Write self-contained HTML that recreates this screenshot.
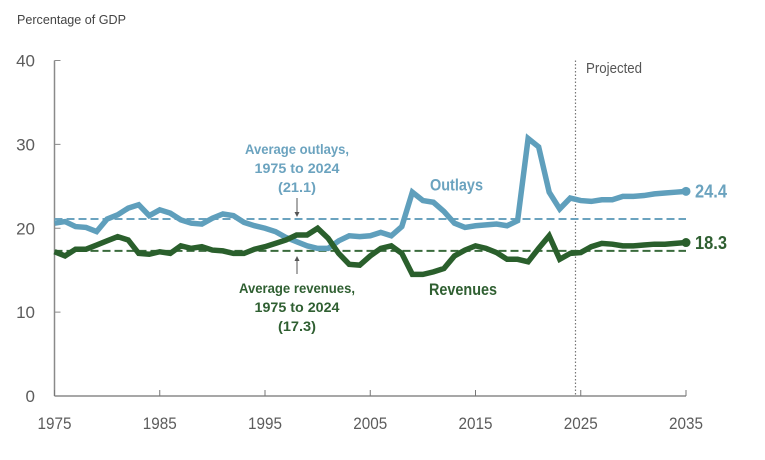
<!DOCTYPE html>
<html lang="en">
<head>
<meta charset="utf-8">
<title>Outlays and Revenues</title>
<style>
  html, body { margin: 0; padding: 0; background: #fff; }
  svg { display: block; filter: blur(0.35px); }
  text { font-family: "Liberation Sans", sans-serif; }
  .blue { fill: #6ba3bf; font-weight: bold; font-size: 14px; }
  .green { fill: #2f5f31; font-weight: bold; font-size: 14px; }
  .tick { fill: #5c5c5c; font-size: 17px; }
</style>
</head>
<body>
<svg id="chart" width="765" height="460" viewBox="0 0 765 460" xmlns="http://www.w3.org/2000/svg">
  <text x="17" y="24" font-size="12.5" fill="#444" textLength="109" lengthAdjust="spacingAndGlyphs">Percentage of GDP</text>
  <g id="axes"></g>
  <g id="refs"></g>
  <g id="series"></g>

  <text x="586" y="73" font-size="15" fill="#555" textLength="56" lengthAdjust="spacingAndGlyphs">Projected</text>

  <g text-anchor="middle">
    <text class="blue" x="297" y="154" textLength="104" lengthAdjust="spacingAndGlyphs">Average outlays,</text>
    <text class="blue" x="297" y="173" textLength="85" lengthAdjust="spacingAndGlyphs">1975 to 2024</text>
    <text class="blue" x="297" y="192" textLength="38" lengthAdjust="spacingAndGlyphs">(21.1)</text>
  </g>
  <g text-anchor="middle">
    <text class="green" x="297" y="293" textLength="116" lengthAdjust="spacingAndGlyphs">Average revenues,</text>
    <text class="green" x="297" y="312" textLength="85" lengthAdjust="spacingAndGlyphs">1975 to 2024</text>
    <text class="green" x="297" y="331" textLength="38" lengthAdjust="spacingAndGlyphs">(17.3)</text>
  </g>

  <g stroke="#555" fill="#555">
    <line x1="297" y1="198" x2="297" y2="214" stroke-width="1"/>
    <path d="M294.5 212 L299.5 212 L297 217 Z" stroke="none"/>
  </g>
  <g stroke="#555" fill="#555">
    <line x1="297" y1="259" x2="297" y2="274" stroke-width="1"/>
    <path d="M294.5 261 L299.5 261 L297 256 Z" stroke="none"/>
  </g>

  <text class="blue" x="430" y="190.5" style="font-size:16.5px" textLength="53" lengthAdjust="spacingAndGlyphs">Outlays</text>
  <text class="green" x="429" y="295" style="font-size:16.5px" textLength="68" lengthAdjust="spacingAndGlyphs">Revenues</text>
  <text id="outlaysEnd" class="blue" x="695" y="197.5" style="font-size:18px" textLength="32" lengthAdjust="spacingAndGlyphs"></text>
  <text id="revenuesEnd" class="green" x="695" y="249" style="font-size:18px" textLength="32" lengthAdjust="spacingAndGlyphs"></text>
</svg>
<script>
const years = [1975,1976,1977,1978,1979,1980,1981,1982,1983,1984,1985,1986,1987,1988,1989,1990,1991,1992,1993,1994,1995,1996,1997,1998,1999,2000,2001,2002,2003,2004,2005,2006,2007,2008,2009,2010,2011,2012,2013,2014,2015,2016,2017,2018,2019,2020,2021,2022,2023,2024,2025,2026,2027,2028,2029,2030,2031,2032,2033,2034,2035];
const outlays = [20.6,20.8,20.2,20.1,19.6,21.1,21.6,22.4,22.8,21.5,22.2,21.8,21.0,20.6,20.5,21.2,21.7,21.5,20.7,20.3,20.0,19.6,18.9,18.4,17.9,17.6,17.6,18.5,19.1,19.0,19.1,19.5,19.1,20.2,24.3,23.3,23.1,22.0,20.6,20.1,20.3,20.4,20.5,20.3,20.9,30.7,29.7,24.3,22.3,23.6,23.3,23.2,23.4,23.4,23.8,23.8,23.9,24.1,24.2,24.3,24.4];
const revenues = [17.2,16.7,17.5,17.5,18.0,18.5,19.0,18.6,17.0,16.9,17.2,17.0,17.9,17.6,17.8,17.4,17.3,17.0,17.0,17.5,17.8,18.2,18.6,19.2,19.2,20.0,18.8,17.0,15.7,15.6,16.7,17.6,17.9,17.0,14.5,14.5,14.8,15.2,16.7,17.4,17.9,17.6,17.1,16.3,16.3,16.0,17.6,19.1,16.3,17.0,17.1,17.8,18.2,18.1,17.9,17.9,18.0,18.1,18.1,18.2,18.3];
const averageOutlays = 21.1;
const averageRevenues = 17.3;
const projectionStart = 2024.5;
const xTicks = [1975,1985,1995,2005,2015,2025,2035];
const yTicks = [0,10,20,30,40];

const NS = 'http://www.w3.org/2000/svg';
const X0 = 54.5, X1 = 686, Y0 = 396, Y40 = 60.5;
function xScale(v) { return X0 + (v - xTicks[0]) * (X1 - X0) / (xTicks[xTicks.length - 1] - xTicks[0]); }
function yScale(v) { return Y0 - (v - yTicks[0]) * (Y0 - Y40) / (yTicks[yTicks.length - 1] - yTicks[0]); }
function make(tag, parent, props) {
  const el = document.createElementNS(NS, tag);
  for (const k in props) el.setAttribute(k, props[k]);
  parent.appendChild(el);
  return el;
}

const axes = document.getElementById('axes');
const refs = document.getElementById('refs');
const series = document.getElementById('series');
const AXIS = '#8a8a8a';

const yAxis = make('line', axes, {x1: X0, x2: X0, y1: Y40, y2: Y0, stroke: AXIS, 'stroke-width': 1.5});


const xAxis = make('line', axes, {x1: X0, x2: X1, y1: Y0, y2: Y0, stroke: AXIS, 'stroke-width': 1.5});



yTicks.forEach(function (t) {
  const y = yScale(t);
  const mark = make('line', axes, {x1: X0, x2: X0 + 6, y1: y, y2: y, stroke: AXIS, 'stroke-width': 1});
  
  
  const label = make('text', axes, {x: 35, y: y + 6, 'text-anchor': 'end', class: 'tick'});
  
  
  label.textContent = t;
});

xTicks.forEach(function (t) {
  const x = xScale(t);
  const mark = make('line', axes, {x1: x, x2: x, y1: Y0, y2: Y0 - 6, stroke: '#777', 'stroke-width': 1});
  
  
  const label = make('text', axes, {x: x, y: 429, 'text-anchor': 'middle', class: 'tick', textLength: 34, lengthAdjust: 'spacingAndGlyphs'});
  
  
  label.textContent = t;
});

const divider = make('line', refs, {x1: xScale(projectionStart), x2: xScale(projectionStart), y1: Y40, y2: Y0, stroke: '#777', 'stroke-width': 1.2, 'stroke-dasharray': '1.5 2'});



const avgOutlaysLine = make('line', refs, {x1: X0, x2: X1, y1: yScale(averageOutlays), y2: yScale(averageOutlays), stroke: '#6ba3bf', 'stroke-width': 2, 'stroke-dasharray': '8 4'});


const avgRevenuesLine = make('line', refs, {x1: X0, x2: X1, y1: yScale(averageRevenues), y2: yScale(averageRevenues), stroke: '#3a6b3c', 'stroke-width': 2, 'stroke-dasharray': '8 4'});



function pathFor(values) {
  return values.map(function (v, i) {
    return (i ? 'L' : 'M') + xScale(years[i]).toFixed(2) + ' ' + yScale(v).toFixed(2);
  }).join(' ');
}

const outlaysLine = make('path', series, {d: pathFor(outlays), fill: 'none', stroke: '#5f9fbc', 'stroke-width': 5.5, 'stroke-linejoin': 'miter', 'stroke-miterlimit': 3});


const outlaysDot = make('circle', series, {cx: xScale(years[years.length - 1]), cy: yScale(outlays[outlays.length - 1]), r: 4.5, fill: '#5f9fbc'});



const revenuesLine = make('path', series, {d: pathFor(revenues), fill: 'none', stroke: '#2a5f2c', 'stroke-width': 5.5, 'stroke-linejoin': 'miter', 'stroke-miterlimit': 3});


const revenuesDot = make('circle', series, {cx: xScale(years[years.length - 1]), cy: yScale(revenues[revenues.length - 1]), r: 4.5, fill: '#2a5f2c'});



document.getElementById('outlaysEnd').textContent = outlays[outlays.length - 1].toFixed(1);
document.getElementById('revenuesEnd').textContent = revenues[revenues.length - 1].toFixed(1);
</script>
</body>
</html>
